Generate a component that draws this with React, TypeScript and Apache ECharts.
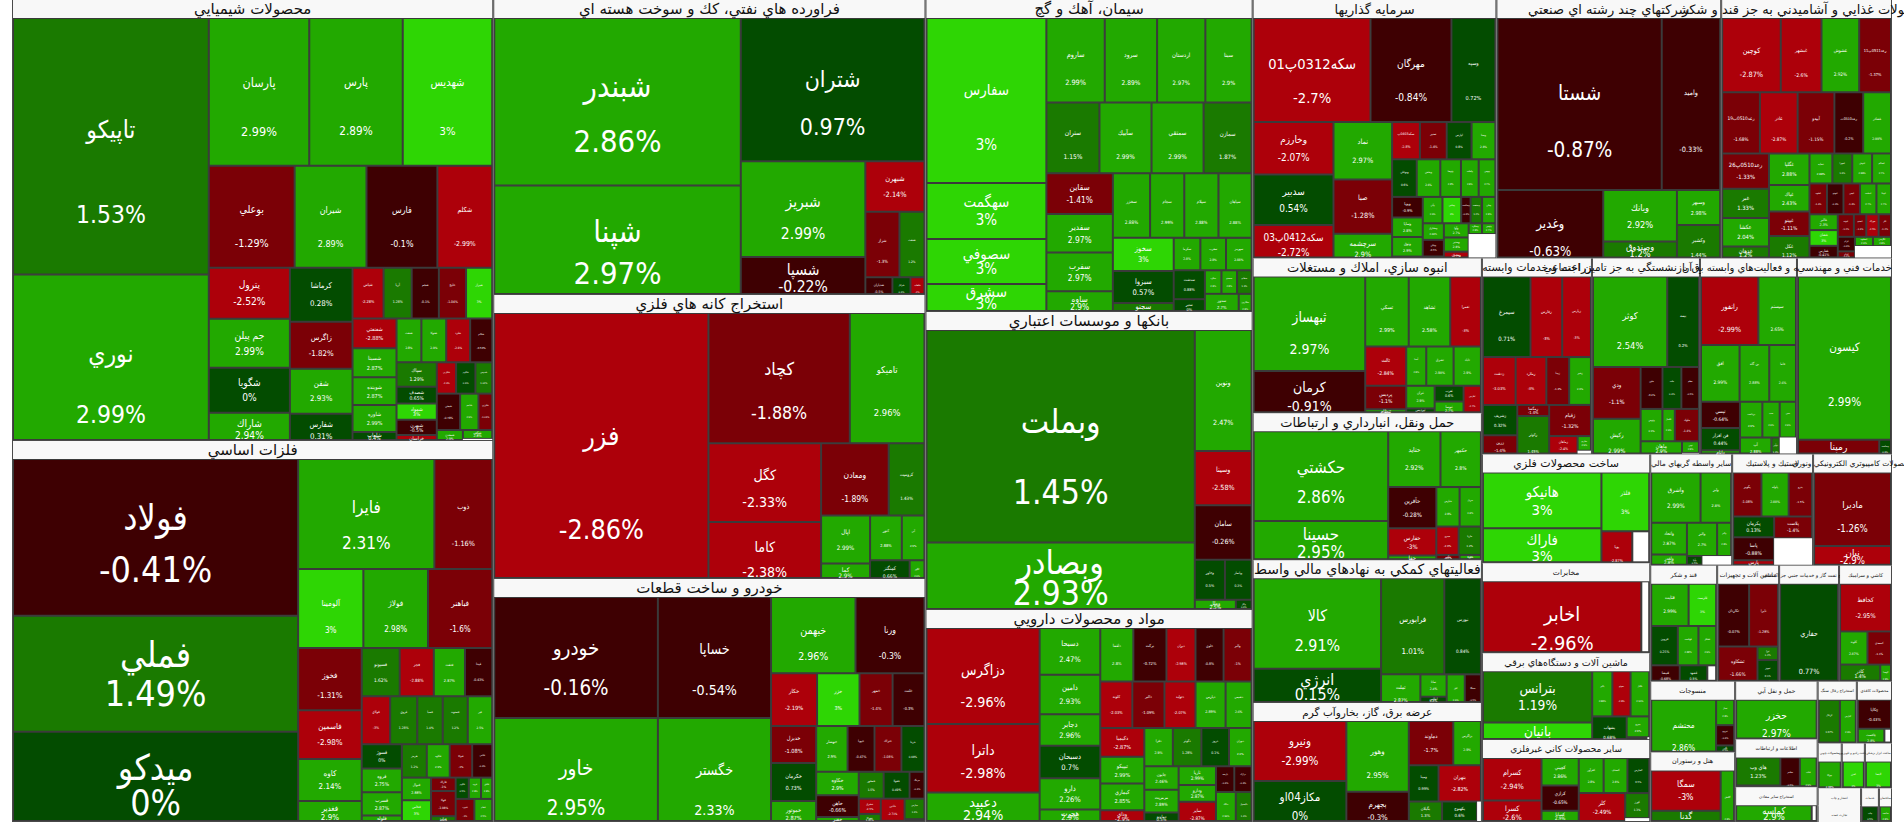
import React, { useEffect, useRef } from "react";
import * as echarts from "echarts";

const chemNames = ["تاپيكو","نوري","پارسان","پارس","شهديس","بوعلي","شيران","فارس","شكلم","پترول","جم پيلن","شگويا","شاراك","كرماشا","زاگرس","شفن","شفارس","شپاس","آريا","شجم","خليج","شيراز","شفنفتي","شسينا","شوينده","شاوره","شلعاب","شنفت","شتوكا","شلرد","شكام","سپاك","شصدف","شمواد","شبهرن","خراسان","شكربن","شالوم","شدوس","شبجي","شاخم","شلرزي","شمعدن","شپلي","شكف"];
const chemSizes = [49858,35502,14746,13724,13140,8686,7272,7171,5555,4108,3950,3634,3555,3355,2928,2806,2684,1568,1421,1372,1372,1323,1302,1260,1218,1176,1092,1080,1080,1040,960,980,672,644,616,875,600,600,525,840,665,496,400,300,260];
const chemChanges = [1.53,2.99,2.99,2.89,3,-1.29,2.89,-0.1,-2.99,-2.52,2.99,0,2.94,0.28,-1.82,2.93,0.31,-2.28,1.28,-0.1,-1.04,3,-2.88,2.87,2.87,2.99,0.4,2.8,2.9,-2.8,-0.53,1.29,0.65,3,-0.5,-3,-2.4,0.6,1.02,-0.78,2.9,-1.03,2.9,2.88,2.8];

const metalNames = ["فولاد","فملي","ميدكو","فايرا","ذوب","آلومينا","فولاژ","فباهنر","فخوز","فاسمين","كاوه","فغدير","فسپونو","فجر","فنفت","فپنتا","فولاي","فروي","فسبا","فستوند","فير","فسوژ","فروه","فسرب","فلوله","هرمز","فكاوه","فتوكا","فلامي","فنوال","فخاس","فزرين","فاراك","فوكا","فرآور","فالوم","فرود","فافق","فنورد","فجام","فبيرا"];
const metalSizes = [44714,33111,30281,15012,6372,5148,5100,5070,3968,3100,2666,2356,1833,1645,1504,1316,1363,1300,1222,1200,1175,975,960,936,900,832,768,750,672,660,616,484,330,620,540,280,260,240,500,480,450];
const metalChanges = [-0.41,1.49,0,2.31,-1.16,3,2.98,-1.6,-1.31,-2.98,2.14,2.9,1.62,-2.88,2.87,-0.43,-3,1.28,1.4,1.2,2.5,0,2.75,2.87,2.8,1.2,2.9,-1.0,-0.4,2.88,3,2.6,-1.0,-1.08,1.2,0.5,2.8,2.8,-1.0,2.5,1.0];

const refineryNames = ["شبندر","شپنا","شتران","شبريز","شسپا","شبهرن","شراز","شنفت","شدياران","شرانل","شلعاب"];
const refinerySizes = [41496,31122,26455,12000,6750,3000,2244,1650,918,612,476];
const refineryChanges = [2.86,2.97,0.97,2.99,-0.22,-2.14,-1.3,1.2,-0.5,0.4,-2];

const miningNames = ["فزر","كچاد","تاميكو","كگل","كاما","ومعادن","كروميت","اپال","كما","كنور","آبي","كمنگنز","كگهر"];
const miningSizes = [61490,18744,9900,9040,8362,4964,2628,2401,1568,1450,1035,1400,525];
const miningChanges = [-2.86,-1.88,2.96,-2.33,-2.38,-1.89,1.43,2.99,2.9,2.88,2.9,0.66,2.6];

const autoNames = ["خودرو","خاور","خساپا","خگستر","خبهمن","ورنا","خكار","خزر","خمهر","خلنت","خديزل","خكرمان","خموتور","خبهسار","خپويا","ختراك","خريتا","خكاوه","خاهن","خفنر","خمحور","خفولا","خرينگ","خشرق","خفوكا","خاذين","ختور","خپارس","خصدرا"];
const autoSizes = [19764,19602,13664,13552,6438,5254,2418,2232,1736,1674,1674,1710,1665,1440,1232,1232,1056,1000,925,888,666,693,399,336,528,528,408,408,374];
const autoChanges = [-0.16,2.95,-0.54,2.33,2.96,-0.3,-2.19,3,-1.4,-0.3,-1.08,0.73,2.87,2.9,-0.47,-1.08,0.68,2.9,-0.66,2.6,1.5,0.49,-0.4,-2.5,1.45,-2.71,1.2,1.3,1.4];

const cementNames = ["سفارس","سهگمت","سصوفي","سشرق","ساروم","سرود","اردستان","سيتا","ستران","سآبيك","سمتقي","سمازن","سقاين","سفدير","سفرب","ساوه","سخزر","سجام","سيلام","سپاهان","سخوز","سبزوا","سجنو","سكرما","سغرب","سهرمز","سدشت","سنير","سكرد","سبجنو","سفانو","سدور","سارو","سكارون"];
const cementSizes = [19800,6720,5400,5280,4930,4420,4080,3910,3763,3692,3692,3408,2706,2574,2574,2442,2405,2210,2210,2145,2013,1952,1525,864,832,832,900,900,391,368,345,714,442,442];
const cementChanges = [3,3,3,3,2.99,2.89,2.97,2.9,1.15,2.99,2.99,1.87,-1.41,2.97,2.97,2.9,2.88,2.99,2.88,2.88,3,0.57,1.2,2.8,2.8,2.88,0.88,0,2.8,2.8,1.3,2.7,2.8,2.8];

const bankNames = ["وبملت","وبصادر","ونوين","وسينا","سامان","وخاور","وپاسار","وملل","وكار"];
const bankSizes = [57994,22764,7000,3136,3136,1232,1092,1092,420];
const bankChanges = [1.45,2.93,2.47,-2.58,-0.26,0.5,0.3,2.5,0.4];

const pharmaNames = ["دزاگرس","داترا","دعبيد","دسبحا","دامين","دجابر","دسبحان","دارو","هجرت","دلقما","بركت","ديران","خلوي","والبر","كلوند","دالبر","دتوليد","دپارس","دشيمي","دكيميا","تيپيكو","كيماري","وداي","دفرا","دكوثر","دروز","دتهران","جابون","مرمريت","دماوند","تاريا","ودارو","ساير","پارسه","درازك","دبالك","دكپسول","دفارا","ديران2"];
const pharmaSizes = [10961,7797,5198,2852,2418,1922,1984,1922,1736,1782,1782,1566,1512,1512,1504,1504,1457,1410,1222,1276,1188,1188,1232,1102,1102,1064,874,816,782,884,703,629,1369,475,450,720,576,200,160];
const pharmaChanges = [-2.96,-2.98,2.94,2.47,2.93,2.96,0.7,2.26,2.9,2.8,-0.72,-2.98,-0.8,-1.0,-2.03,-1.09,-2.07,2.89,2.6,-2.87,2.99,2.85,-2.9,2.9,1.28,0.1,2.6,2.46,2.89,0.5,2.99,2.87,-2.87,-0.4,-0.4,2.99,1.4,2.8,2.8];

const investNames = ["سكه0312پ01","مهرگان","وسپه","وخارزم","سدبير","سكه0412پ03","نماد","صبا","سرچشمه","سكه0403پ","سنير","لپارس","وسنا","وبوعلي","وپخش","وتوصا","ولملت","وبهمن","وپويا","وساپا","وثوق","وصنا","وآتي","وجامي","وساخت","وصنعت","وملي","ومشارق","ونيكي","وسكاب","وآوا","ومدير","وسمنان","وشمس","وسكرد","وتوس"];
const investSizes = [12168,8424,4576,4187,4029,3950,3364,3190,2378,1036,999,925,888,925,888,777,666,629,630,600,600,546,520,494,247,304,352,351,351,378,352,352,264,300,144,144];
const investChanges = [-2.7,-0.84,0.72,-2.07,0.54,-2.72,2.97,-1.28,2.9,-2.8,-1.4,0.8,2.8,0.6,2.6,2.8,2.8,2.7,-0.9,2.8,2.9,-1,2.6,3,-0.3,1.2,2.8,2.88,-0.5,-1.4,2.7,2.8,-2.7,2.8,2.8,2.7];

const massNames = ["ثبهساز","كرمان","تسكي","ثشاهد","ثعمرا","ثالث","پردیس","ثنظام","آسيا","ثشرق","ثاباد","ثتران","ثپرديس","ثغرب","ثنوسا","ثفارس",""];
const massSizes = [10656,6549,3080,2940,2170,1620,972,828,792,1080,1080,650,598,459,810,552,210];
const massChanges = [2.97,-0.91,2.99,2.58,-3,-2.84,-1.1,2.8,2.8,2.98,2.9,2.9,0.2,0.6,2.7,-2.7,null];

const transportNames = ["حكشتي","حسينا","حتايد","حكمهر","حآفرين","حفارس","حفا","حپارس","حريل","حپترو","حاريا","حگهر","حپويا"];
const transportSizes = [12285,7560,2968,2296,2016,1344,1008,936,858,644,644,504,462];
const transportChanges = [2.86,2.95,2.92,2.8,-0.28,-3,2.9,2.8,2.8,-2.6,1.2,-1.5,2.8];

const auxNames = ["كالا","انرژي","فرابورس","نبورس","تملت","ساتا","اطلس","افق","سمگا"];
const auxSizes = [11776,6528,6208,3589,1794,598,598,828,736];
const auxChanges = [2.91,0.15,1.01,0.84,2.87,2.4,0.8,2.6,-0.5];

const powerNames = ["ونيرو","مكاز04او","وهور","بجهرم","دماوند","بزاگرس","ومپنا","بتهران","بگيلان","بيزد","بكهنوج","باختر"];
const powerSizes = [5612,5336,4464,2914,1980,1232,1092,1560,684,540,741,546];
const powerChanges = [-2.99,0,2.95,-0.3,-1.7,2.9,0.99,-2.82,1.3,1.6,0.6,1.2];

const multiNames = ["شستا","واميد","وغدير","وبانك","وصندوق","وسبهر","وكشير"];
const multiSizes = [28552,10148,9030,3848,2442,1530,2160];
const multiChanges = [-0.87,-0.33,-0.63,2.92,1.2,2.98,1.44];

const foodNames = ["كوچين","غبشهر","غشوش","رعد0511پ11","رعد0510ب19","غاذر","آبيدو","رعد0510ت","غشاذر","رعد0510پ26","غبر","عكشا","غدهان","غگلپا","غپاك","غپينو","غكل","غمايه","غمهرا","غنوش","غسالم","غشهد","غبهنو","غچين","غدشت","غويتا","غالبر","غشان","غفارس","غزر","غپونه","غمينو","خوراك","غلر","غرام","غدام","غنيلو","غمشهد","غگرجي"];
const foodSizes = [4366,3034,2812,2368,2318,2318,2257,1769,1708,1656,1380,1334,1316,1280,1080,1000,1560,690,600,600,570,540,510,510,510,450,450,448,420,392,364,280,280,280,250,200,196,168,168];
const foodChanges = [-2.87,-2.6,2.92,-1.37,-1.68,-2.87,-1.15,-0.2,2.99,-1.33,1.33,2.04,1.2,2.88,2.43,-1.11,1.12,2.88,1.4,2.88,2.7,-1.4,-0.3,-1.4,2.7,2.7,2.3,3,-0.41,1.2,-1.2,-1.3,-2.5,-1.2,-0.4,-1.2,0.2,2.9,2.8];

const agriNames = ["سيمرغ","زفارس","زپارس","زدشت","زملارد","زبينا","زشير","زشريف","زرين","زگلدشت","زمگسا","زكوثر","زقيام","زماهان","زاگرس","ساربو"];
const agriSizes = [3888,2592,2349,1584,1488,1104,1056,1056,792,432,360,1760,1320,540,450,198];
const agriChanges = [0.71,-3,-3,-3.03,-3,-1.4,2.9,0.32,-1.4,1.3,-1.4,1.45,-1.32,-2.4,-0.5,2.9];

const retireNames = ["كوثر","بيمه","ودي","ركيش","مئين","ملت","معلم","وتوس","تكميل","ملوك","ماهان","آسيا","نوين"];
const retireSizes = [6825,2912,2499,2499,928,800,748,714,408,792,648,576,200];
const retireChanges = [2.54,0.2,-1.1,2.99,-0.2,0.4,-0.5,2.9,2.9,-1.4,2.9,0.5,2.8];

const computeNames = ["رانفور","سيستم","افق","بن گاه","فاما","تپسي","فن افزار","داتام","پرداخت","سپ","مبين","آپ","توسن","نوآور"];
const computeSizes = [4002,2622,2223,1710,1539,1040,880,800,814,629,592,682,372,279];
const computeChanges = [-2.99,2.65,2.99,2.88,2.6,-0.64,0.44,2.9,2.9,2.9,2.9,2.88,0.5,1.3];

const techNames = ["كيسون","رمپنا","وساخت"];
const techSizes = [15675,2573,372];
const techChanges = [2.99,-1.7,0.6];

const metalProdNames = ["هانيكو","فاراك","فلذر","پويا",""];
const metalProdSizes = [6783,6188,2880,1519,833];
const metalProdChanges = [3,3,3,-2.87,null];

const telecomNames = ["اخابر",""];
const telecomSizes = [14400,720];
const telecomChanges = [-2.96,null];

const machineNames = ["بترانس","بانيان","بالبر","بموتو","بكابل","بشهاب","بنيرو","بسويچ"];
const machineSizes = [5720,3740,930,837,861,1394,480,400];
const machineChanges = [1.19,3,2.88,-2.8,2.91,0.68,2.9,0.4];

const nonmetalNames = ["كسرام","كسرا","كچيني","كرازي","كساپا","كفرآور","كصدف","كفپارس","كلر","كبافق","كورز"];
const nonmetalSizes = [2537,2242,1040,960,1040,888,851,777,1353,779,615];
const nonmetalChanges = [-2.94,-2.6,2.86,-0.65,2.9,2.8,2.8,0.5,-2.49,0.4,1.3];

const otherFinNames = ["واشرق","وليز","واتحاد","ولغدر","وپارس","واليز","والبر","وآوا"];
const otherFinSizes = [2550,1581,1161,540,459,1032,480,408];
const otherFinChanges = [2.99,2.8,2.87,2.8,3,2.7,2.8,0.5];

const rubberNames = ["پكوير","پلوله","پدرو","پكرمان","پاسا","پارس","پلاست"];
const rubberSizes = [1276,1232,1056,880,968,900,850];
const rubberChanges = [-1.08,2.88,-1.5,0.13,-0.88,-3,-1.4];

const electroNames = ["ماديرا","نيان"];
const electroSizes = [5846,2844];
const electroChanges = [-1.26,-2.9];

const sugarNames = ["قثابت","قلرست","قزوين","قهكمت","قشكر","قنيشا","قشهد","قاروم",""];
const sugarSizes = [1634,1204,1080,840,720,957,594,330,297];
const sugarChanges = [2.99,3,0.25,2.88,2.9,-0.68,0.5,2.7,null];

const equipNames = ["تكاردان","تايرا","تشكاوه","تپمپي","تيرا","تجهيز",""];
const equipSizes = [2016,1890,1700,384,288,513,243];
const equipChanges = [-0.07,-1.28,-1.66,3,1.3,0.5,null];

const oilNames = ["حفاري"];
const oilSizes = [6960];
const oilChanges = [0.77];

const ceramicNames = ["كحافظ","كلوند","كسعدي","كاذر","كپرس","كهمدا"];
const ceramicSizes = [2544,952,816,748,646,374];
const ceramicChanges = [-2.95,2.87,-1.1,1.4,0.5,2.8];

const textileNames = ["محتشم","نساز","نبروج","نگين",""];
const textileSizes = [4623,475,380,280,120];
const textileChanges = [2.86,2.8,-0.4,0.5,null];

const hotelNames = ["سمگا","گدنا","گكيش"];
const hotelSizes = [3096,2088,1008];
const hotelChanges = [-3,1.2,2.8];

const waterNames = ["حخزر"];
const waterSizes = [4756];
const waterChanges = [2.97];

const itNames = ["هاي وب","نوت","مفاخر","فناپ"];
const itSizes = [1323,832,950,820];
const itChanges = [1.23,2.88,-0.5,2.9];

const otherMineNames = ["كماسه",""];
const otherMineSizes = [2660,175];
const otherMineChanges = [2.9,null];

const coalNames = ["كزغال","كپارس","كرمان"];
const coalSizes = [1110,832,352];
const coalChanges = [1.67,2.9,-2.5];

const paperNames = ["چكاپا","چافست",""];
const paperSizes = [1050,896,224];
const paperChanges = [-0.43,2.8,null];

const woodNames = ["چوكا"]; const woodSizes = [1080]; const woodChanges = [2.88];
const radioNames = ["لخزر"]; const radioSizes = [1035]; const radioChanges = [3];
const toolsNames = ["لابسا"]; const toolsSizes = [1215]; const toolsChanges = [3];
const blankSizes = [100]; const blankNames = [""]; const blankChanges = [null];
const printNames = ["چاپ"]; const printSizes = [600]; const printChanges = [0.5];
const buildNames = ["ساخت"]; const buildSizes = [440]; const buildChanges = [2.8];

const sectorTitles = ["محصولات شيميايي","فلزات اساسي","فراورده هاي نفتي، كك و سوخت هسته اي","استخراج كانه هاي فلزي","خودرو و ساخت قطعات","سيمان، آهك و گچ","بانكها و موسسات اعتباري","مواد و محصولات دارويي","سرمايه گذاريها","شركتهاي چند رشته اي صنعتي","محصولات غذايي و آشاميدني به جز قند و شكر","انبوه سازي، املاك و مستغلات","حمل ونقل، انبارداري و ارتباطات","فعاليتهاي كمكي به نهادهاي مالي واسط","عرضه برق، گاز، بخاروآب گرم","زراعت و خدمات وابسته","بيمه وصندوق بازنشستگي به جز تامين اجتماعي","رايانه و فعاليت‌هاي وابسته به آن","خدمات فني و مهندسي","ساخت محصولات فلزي","مخابرات","ماشين آلات و دستگاه‌هاي برقي","ساير محصولات كاني غيرفلزي","ساير واسطه گريهاي مالي","لاستيك و پلاستيك","محصولات كامپيوتري الكترونيكي ونوري","قند و شكر","ماشين آلات و تجهيزات","استخراج نفت گاز و خدمات جنبي جز اكتشاف","كاشي و سراميك","منسوجات","هتل و رستوران","حمل و نقل آبي","اطلاعات و ارتباطات","استخراج ساير معادن","استخراج زغال سنگ","محصولات كاغذي","محصولات چوبي","ساخت راديو و تلويزيون","ساخت ابزار پزشكي","انتشار و چاپ","تجارت عمده","خدمات","ساختمان"];
const sectorSizes = [212121,183261,127440,122688,104976,102024,97446,69324,62952,58050,44118,35495,33663,32747,27251,21560,21168,19012,18620,18312,15120,14616,13776,9102,8991,8769,7772,7192,6960,6148,6000,5900,4756,3936,2870,2418,2170,1080,1035,1215,760,700,600,440];
const headerFontSizes = [15,15,15,15,15,15,15,15,13,13,13,13,13,14,10.5,11,10.5,10,10,11,7.5,9.5,9,7.5,7.5,7.5,6,6,5,5,6.5,6.5,6,5,4,4,4,3,3,3,3,3,3,3];

const sectorNames = [chemNames,metalNames,refineryNames,miningNames,autoNames,cementNames,bankNames,pharmaNames,investNames,multiNames,foodNames,massNames,transportNames,auxNames,powerNames,agriNames,retireNames,computeNames,techNames,metalProdNames,telecomNames,machineNames,nonmetalNames,otherFinNames,rubberNames,electroNames,sugarNames,equipNames,oilNames,ceramicNames,textileNames,hotelNames,waterNames,itNames,otherMineNames,coalNames,paperNames,woodNames,radioNames,toolsNames,blankNames,blankNames,printNames,buildNames];
const sectorTileSizes = [chemSizes,metalSizes,refinerySizes,miningSizes,autoSizes,cementSizes,bankSizes,pharmaSizes,investSizes,multiSizes,foodSizes,massSizes,transportSizes,auxSizes,powerSizes,agriSizes,retireSizes,computeSizes,techSizes,metalProdSizes,telecomSizes,machineSizes,nonmetalSizes,otherFinSizes,rubberSizes,electroSizes,sugarSizes,equipSizes,oilSizes,ceramicSizes,textileSizes,hotelSizes,waterSizes,itSizes,otherMineSizes,coalSizes,paperSizes,woodSizes,radioSizes,toolsSizes,blankSizes,blankSizes,printSizes,buildSizes];
const sectorChanges = [chemChanges,metalChanges,refineryChanges,miningChanges,autoChanges,cementChanges,bankChanges,pharmaChanges,investChanges,multiChanges,foodChanges,massChanges,transportChanges,auxChanges,powerChanges,agriChanges,retireChanges,computeChanges,techChanges,metalProdChanges,telecomChanges,machineChanges,nonmetalChanges,otherFinChanges,rubberChanges,electroChanges,sugarChanges,equipChanges,oilChanges,ceramicChanges,textileChanges,hotelChanges,waterChanges,itChanges,otherMineChanges,coalChanges,paperChanges,woodChanges,radioChanges,toolsChanges,blankChanges,blankChanges,printChanges,buildChanges];

const TILE_FONT = "'DejaVu Sans Condensed', 'DejaVu Sans', sans-serif";
const HEADER_FONT = "'DejaVu Sans', sans-serif";
const HEADER_HEIGHT = 18;

function tileColor(p: number | null): string {
  if (p == null) return "#ffffff";
  if (p >= 3) return "#2ed604";
  if (p >= 2) return "#22a900";
  if (p >= 1) return "#1a7a00";
  if (p >= 0) return "#034c00";
  if (p > -1) return "#3e0002";
  if (p > -2) return "#7b0006";
  return "#ad000a";
}

// The reference lays tiles out over the whole sector box, then pushes them below the
// sector's title and cuts what falls past the box: same treatment after the library's squarify.
echarts.registerLayout(2000, (ecModel: any) => {
  ecModel.eachSeriesByType("treemap", (series: any) => {
    const root = series.getData().tree.root;
    root.children.forEach((sector: any) => {
      const box = sector.getLayout();
      if (!box) return;
      sector.setLayout({ upperHeight: HEADER_HEIGHT }, true);
      sector.children.forEach((tile: any) => {
        const l = tile.getLayout();
        if (!l || l.movedY === l.y) return;
        const y = l.y + HEADER_HEIGHT - 1;
        const visible = Math.min(l.height, box.height - 1 - y);
        tile.setLayout(
          { y, fullHeight: l.height, height: Math.max(visible, 0), movedY: y, isInView: visible > 0.5 },
          true
        );
      });
    });
  });
});

function labelFor(w: number, full: number, visible: number) {
  const fontSize = Math.max(w * 0.125, 2.5);
  const room = Math.max(visible - 2.5, 1);
  const fullGap = Math.max(full / 3, fontSize * 0.95);
  const tall = Math.min(Math.max((full / w - 0.4) / 0.4, 0), 1);
  const middle = full / 2 + (full > 60 ? full * 0.1 * tall : 0);
  const showChange = visible >= fontSize * 1.45;
  let gap: number;
  let centre: number;
  if (showChange) {
    gap = Math.min(fullGap, room / 2);
    centre = Math.max(Math.min(middle, visible - gap / 2 - fontSize * 0.45), visible / 2);
  } else {
    gap = Math.min(fontSize * 1.1, room);
    centre = visible / 2;
  }
  return { fontSize, lineHeight: gap, offset: [0, centre - visible / 2], showChange };
}

function buildData(layout: any[][] | null) {
  return sectorTitles.map((title, i) => {
    const sizes = sectorTileSizes[i];
    const sum = sizes.reduce((a, b) => a + b, 0);
    const remainder = sectorSizes[i] * 0.985 - sum;
    const children: any[] = sizes.map((size, j) => {
      const change = sectorChanges[i][j];
      const box = layout ? layout[i][j] : null;
      const lab = box && box.width ? labelFor(box.width, box.fullHeight || box.height, box.height) : { fontSize: 8, lineHeight: 10, offset: [0, 0], showChange: true };
      return {
        name: sectorNames[i][j],
        value: size,
        change,
        showChange: lab.showChange,
        itemStyle: { color: tileColor(change), borderColor: "#3a3a3a", borderWidth: 1, gapWidth: 0 },
        label: change == null ? { show: false } : { show: true, fontSize: lab.fontSize, lineHeight: lab.lineHeight, offset: lab.offset },
      };
    });
    if (remainder > 0) {
      children.push({
        name: "",
        value: remainder,
        change: null,
        itemStyle: { color: "#ffffff", borderColor: "#ffffff", borderWidth: 1, gapWidth: 0 },
        label: { show: false },
      });
    }
    return {
      name: title,
      value: sectorSizes[i],
      itemStyle: { borderColor: "#4a4a4a", borderWidth: 1, gapWidth: 0 },
      upperLabel: {
        show: true,
        height: 1,
        position: "inside",
        align: "center",
        verticalAlign: "middle",
        backgroundColor: "#f8f8f8",
        color: "#111",
        fontSize: headerFontSizes[i],
        fontFamily: HEADER_FONT,
        overflow: "none",
        padding: 0,
        formatter: title,
      },
      children,
    };
  });
}

function buildOption(layout: any[][] | null) {
  return {
    animation: false,
    tooltip: { show: false },
    series: [
      {
        type: "treemap",
        left: 12,
        top: 0,
        width: 1880,
        height: 822,
        sort: false,
        roam: false,
        nodeClick: false,
        visibleMin: 0,
        breadcrumb: { show: false },
        itemStyle: { borderWidth: 0, gapWidth: 0 },
        upperLabel: { show: false },
        label: {
          show: true,
          position: "inside",
          padding: 0,
          color: "#fff",
          fontFamily: TILE_FONT,
          overflow: "none",
          align: "center",
          verticalAlign: "middle",
          formatter: (p: any) => (p.data && p.data.showChange ? `${p.name}\n${p.data.change}%` : p.name),
        },
        data: buildData(layout),
      },
    ],
  };
}

export default function App() {
  const ref = useRef<HTMLDivElement>(null);
  useEffect(() => {
    document.body.style.margin = "0";
    document.body.style.overflow = "hidden";
    const chart = echarts.init(ref.current as HTMLDivElement, undefined, { renderer: "svg" });
    chart.setOption(buildOption(null));
    const root = (chart as any).getModel().getSeriesByIndex(0).getData().tree.root;
    const layout = sectorTitles.map((_, i) =>
      sectorTileSizes[i].map((__, j) => {
        const node = root.children[i] && root.children[i].children[j];
        return node ? node.getLayout() : null;
      })
    );
    chart.setOption(buildOption(layout));
    return () => chart.dispose();
  }, []);
  return <div ref={ref} style={{ width: 1904, height: 822 }} />;
}
